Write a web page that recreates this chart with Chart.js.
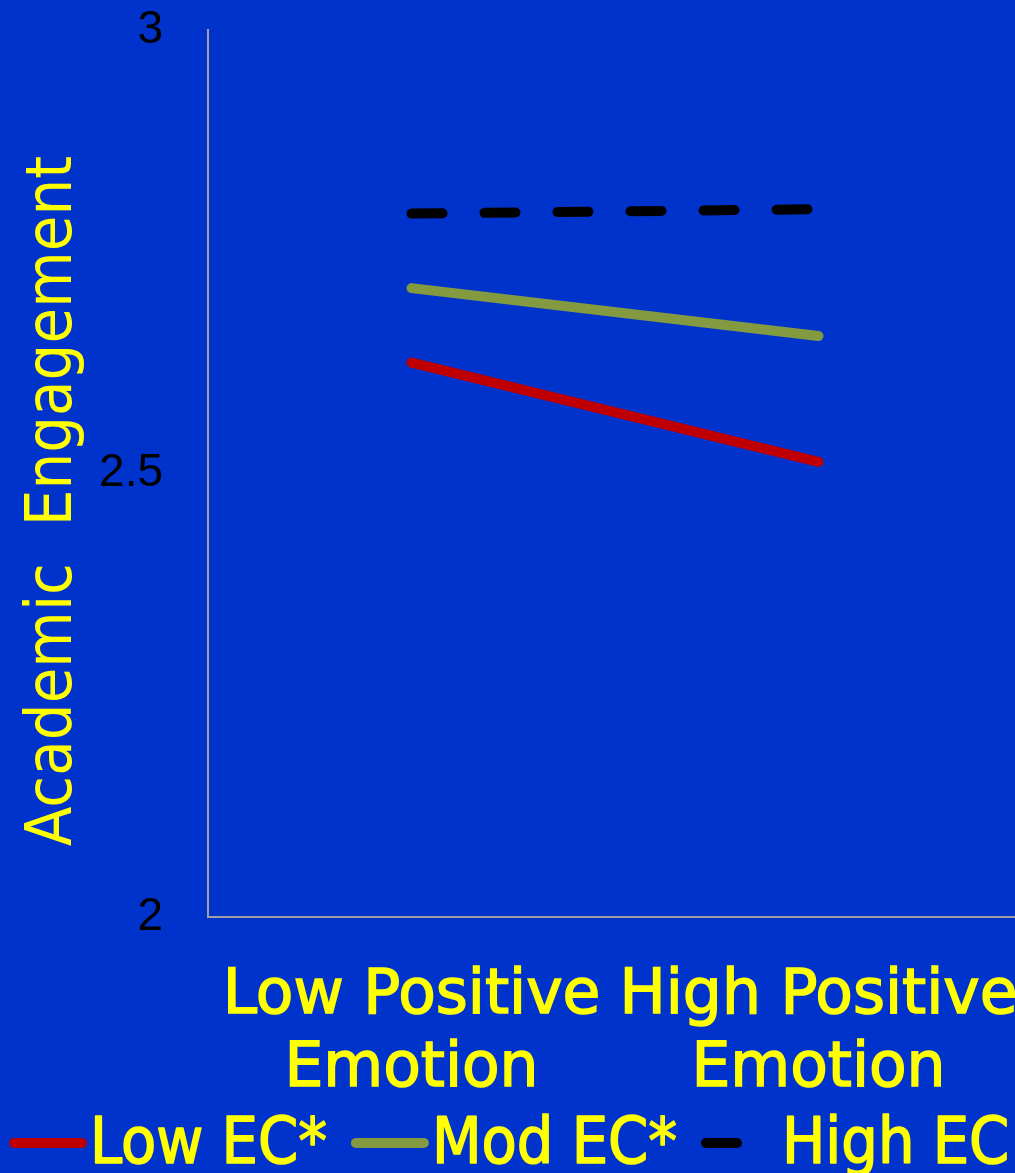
<!DOCTYPE html>
<html>
<head>
<meta charset="utf-8">
<script src="https://cdn.jsdelivr.net/npm/chart.js@4.4.1/dist/chart.umd.min.js"></script>
<style>
  html, body { margin: 0; padding: 0; background: #0033cc; overflow: hidden; }
  #wrap { width: 1015px; height: 1173px; overflow: hidden; position: relative; }
  canvas { display: block; }
</style>
</head>
<body>
<div id="wrap"><canvas id="chart" width="1100" height="1173"></canvas></div>
<script>
// Categories on the x axis (two-line labels)
const categories = [['Low Positive', 'Emotion'], ['High Positive', 'Emotion']];

// Series names and values (Academic Engagement)
const seriesNames = ['Low EC*', 'Mod EC*', 'High EC'];
const lowEC  = [2.625, 2.513];
const modEC  = [2.709, 2.655];
const highEC = [2.793, 2.798];

// Y axis ticks
const yTickValues = [2, 2.5, 3];
const yTickLabels = ['2', '2.5', '3'];

const yellow = '#ffff00';
const axisGrey = '#a0a0a0';
const condensed = '"DejaVu Sans Condensed", "DejaVu Sans", sans-serif';

// Legend row drawn under the category labels, styled from each dataset
const bottomKey = {
  id: 'bottomKey',
  afterDraw(chart, args, opts) {
    const ctx = chart.ctx;
    ctx.save();
    ctx.font = opts.font;
    ctx.textBaseline = 'alphabetic';
    ctx.textAlign = 'left';
    let x = opts.x;
    chart.data.datasets.forEach(ds => {
      const cap = ds.borderWidth / 2;
      ctx.strokeStyle = ds.borderColor;
      ctx.lineWidth = ds.borderWidth;
      ctx.lineCap = 'round';
      ctx.setLineDash(ds.borderDash || []);
      ctx.beginPath();
      ctx.moveTo(x + cap, opts.lineY);
      ctx.lineTo(x + opts.sampleWidth - cap, opts.lineY);
      ctx.stroke();
      ctx.setLineDash([]);
      const tx = x + opts.sampleWidth + opts.gap;
      ctx.fillStyle = opts.color;
      ctx.strokeStyle = opts.color;
      ctx.lineWidth = opts.textStroke;
      ctx.lineJoin = 'round';
      ctx.strokeText(ds.label, tx, opts.baseline);
      ctx.fillText(ds.label, tx, opts.baseline);
      x = tx + ctx.measureText(ds.label).width + opts.itemGap;
    });
    ctx.restore();
  }
};

new Chart(document.getElementById('chart'), {
  type: 'line',
  data: {
    labels: categories,
    datasets: [
      {
        label: seriesNames[0],
        data: lowEC,
        borderColor: '#c00000',
        borderWidth: 10,
        borderCapStyle: 'round',
        pointRadius: 0,
        tension: 0
      },
      {
        label: seriesNames[1],
        data: modEC,
        borderColor: '#839a40',
        borderWidth: 10,
        borderCapStyle: 'round',
        pointRadius: 0,
        tension: 0
      },
      {
        label: seriesNames[2],
        data: highEC,
        borderColor: '#000000',
        borderWidth: 10,
        borderCapStyle: 'round',
        borderDash: [31, 42],
        pointRadius: 0,
        tension: 0
      }
    ]
  },
  options: {
    responsive: false,
    animation: false,
    devicePixelRatio: 1,
    layout: { padding: { left: 0, top: 30, right: 78, bottom: 0 } },
    plugins: {
      legend: { display: false },
      tooltip: { enabled: false },
      bottomKey: {
        x: 9,
        lineY: 1143,
        baseline: 1163,
        sampleWidth: 78,
        gap: 3,
        itemGap: 24,
        font: '64px ' + condensed,
        textStroke: 1.5,
        color: yellow
      }
    },
    scales: {
      x: {
        type: 'category',
        offset: true,
        grid: { display: false, drawTicks: false },
        border: { display: true, color: axisGrey, width: 2 },
        ticks: {
          color: yellow,
          textStrokeColor: yellow,
          textStrokeWidth: 1.5,
          padding: 44,
          maxRotation: 0,
          autoSkip: false,
          font: { family: '"DejaVu Sans", sans-serif', size: 61.5, lineHeight: 1.187 }
        },
        afterFit(scale) { scale.height = 256; }
      },
      y: {
        min: 2,
        max: 3,
        grid: { display: false, drawTicks: false },
        border: { display: true, color: axisGrey, width: 2 },
        afterBuildTicks(scale) {
          scale.ticks = yTickValues.map(v => ({ value: v }));
        },
        ticks: {
          color: '#000000',
          padding: 45,
          font: { family: '"Liberation Sans", Arial, sans-serif', size: 46 },
          callback(value) {
            const i = yTickValues.indexOf(value);
            return i >= 0 ? yTickLabels[i] : '';
          }
        },
        title: {
          display: true,
          text: 'Academic  Engagement   ',
          color: yellow,
          padding: { top: 16, bottom: 0 },
          font: { family: condensed, size: 64.5, lineHeight: 1.2 }
        },
        afterFit(scale) {
          scale.width = 208;
          // keep the top tick label from pushing the plot area down
          scale.paddingTop = 28;
          scale.paddingBottom = 28;
        }
      }
    }
  },
  plugins: [bottomKey]
});
</script>
</body>
</html>
